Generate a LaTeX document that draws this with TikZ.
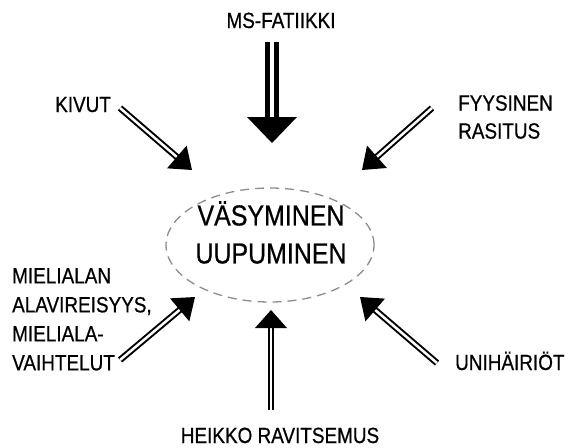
\documentclass[tikz,border=0pt]{standalone}
\usepackage{fontspec}
\setmainfont{Liberation Sans}[FakeStretch=0.86,FakeBold=0.6]
\usetikzlibrary{calc,shapes.geometric}
\newcommand\drawarrow[5]{%
  \draw[#5] (#1) -- ($(#2)!#3-2pt!(#1)$);
  \coordinate (hb) at ($(#2)!#3!(#1)$);
  \fill[black] (#2) -- ($(hb)!#4!90:(#2)$) -- ($(hb)!#4!-90:(#2)$) -- cycle;
}
\begin{document}
\begin{tikzpicture}[x=1pt,y=-1pt,
  lbl/.style={inner sep=0pt, font=\fontsize{22}{28}\selectfont, align=left, text=black},
  ctr/.style={inner sep=0pt, font=\fontsize{29}{38}\selectfont, align=center, text=black},
  shaft/.style={draw=black, double=white, line width=2pt, double distance=2.5pt},
  bigshaft/.style={draw=black, double=white, line width=5pt, double distance=4pt},
  ellbox/.style={draw=black!45, dash pattern=on 9pt off 6pt, line width=1.3pt, ellipse, inner sep=0pt}]
\useasboundingbox (0,0) rectangle (570,447);

\node[ellbox, minimum width=208pt, minimum height=114pt] (ell) at (270,245) {};
\node[ctr, anchor=north] (main) at (271,201) {VÄSYMINEN\\UUPUMINEN};

\node[lbl, anchor=base] (ms) at (281,28) {MS-FATIIKKI};
\node[lbl, anchor=base west] (kiv) at (55,112) {KIVUT};
\node[lbl, anchor=north west] (fyy) at (458,95) {FYYSINEN\\RASITUS};
\node[lbl, anchor=north west, font=\fontsize{22}{29}\selectfont] (mie) at (12,268) {MIELIALAN\\ALAVIREISYYS,\\MIELIALA-\\VAIHTELUT};
\node[lbl, anchor=base west] (uni) at (455,370) {UNIHÄIRIÖT};
\node[lbl, anchor=base] (hei) at (280,443) {HEIKKO RAVITSEMUS};

\coordinate (t1) at (272,42);  \coordinate (h1) at (272,143);
\coordinate (t2) at (120,108); \coordinate (h2) at (192,170);
\coordinate (t3) at (432,108); \coordinate (h3) at (362,170);
\coordinate (t4) at (120,360); \coordinate (h4) at (195,297);
\coordinate (t5) at (437,363); \coordinate (h5) at (360,297);
\coordinate (t6) at (271,410); \coordinate (h6) at (271,310);

\drawarrow{t1}{h1}{26pt}{25pt}{bigshaft}
\drawarrow{t2}{h2}{20pt}{15pt}{shaft}
\drawarrow{t3}{h3}{20pt}{15pt}{shaft}
\drawarrow{t4}{h4}{20pt}{15pt}{shaft}
\drawarrow{t5}{h5}{20pt}{15pt}{shaft}
\drawarrow{t6}{h6}{18pt}{16pt}{shaft}
\end{tikzpicture}
\end{document}
